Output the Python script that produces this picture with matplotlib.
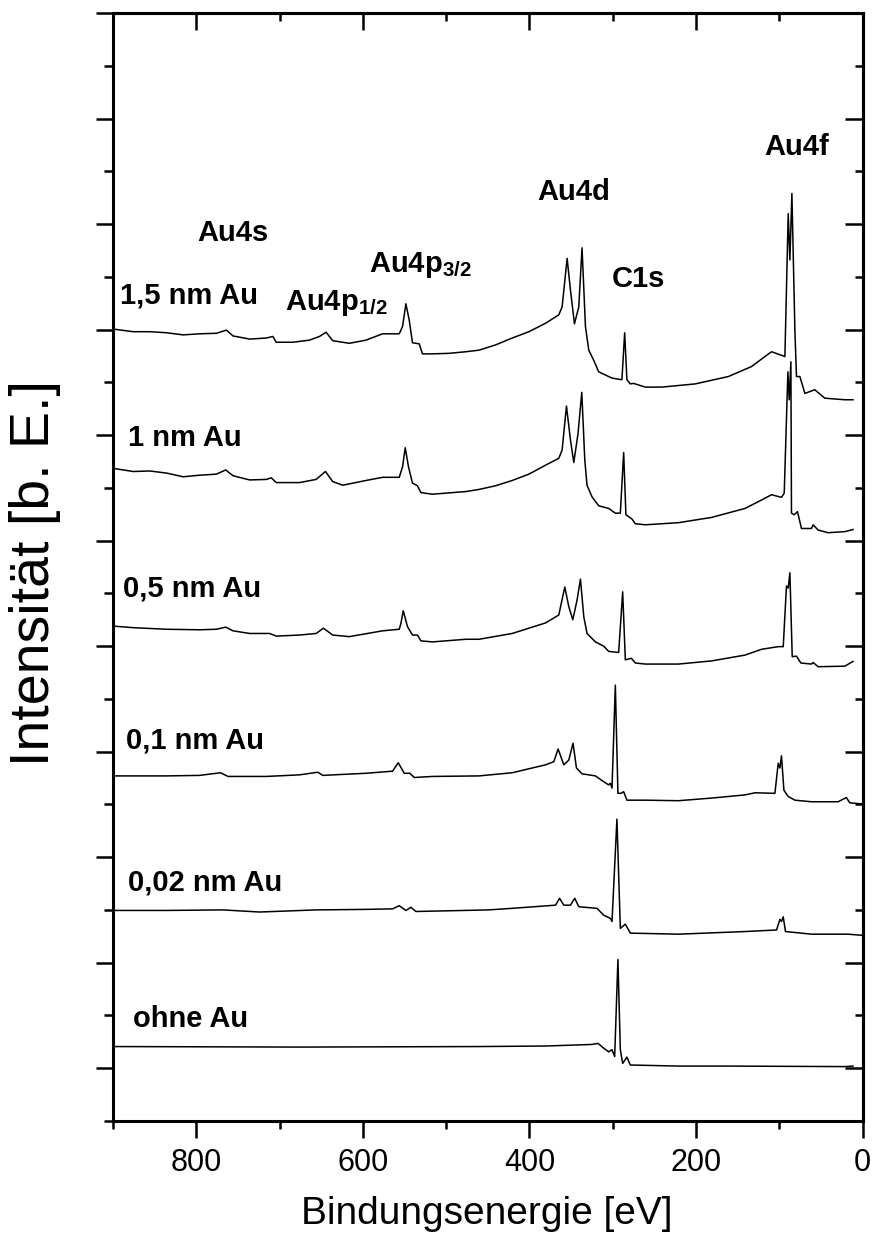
import numpy as np
import matplotlib
matplotlib.use('Agg')
import matplotlib.pyplot as plt
from matplotlib.ticker import MultipleLocator, FixedLocator

plt.rcParams['font.family'] = ['Liberation Sans', 'DejaVu Sans']
plt.rcParams['mathtext.fontset'] = 'custom'
plt.rcParams['mathtext.rm'] = 'Liberation Sans'
plt.rcParams['mathtext.bf'] = 'Liberation Sans:bold'

# binding energy [eV] and intensity [arb. units, stacked]
e_15 = [900, 875.7, 855.7, 835.7, 815.8, 795.8, 775.8, 763.8, 755.9, 735.9, 715.9, 708.0, 704.0, 684.1,
        664.1, 652.1, 644.1, 636.2, 616.2, 596.2, 576.3, 556.3, 552.3, 548.3, 544.3, 540.4, 532.3, 528.4,
        516.4, 496.4, 476.4, 460.5, 440.5, 420.6, 400.6, 380.6, 364.7, 360.7, 354.7, 350.7, 345.9, 340.7,
        336.8, 332.7, 328.7, 322.8, 316.8, 300.8, 288.9, 285.6, 282.9, 278.8, 274.9, 260.8, 241.0, 201.0,
        161.1, 133.2, 117.1, 109.2, 93.2, 89.2, 87.2, 84.8, 81.2, 79.3, 75.2, 69.2, 57.3, 45.3, 21.3, 11.4]
i_15 = [15.01, 14.96, 14.96, 14.94, 14.90, 14.92, 14.93, 14.99, 14.88, 14.82, 14.84, 14.87, 14.76, 14.76,
        14.80, 14.87, 14.95, 14.79, 14.74, 14.80, 14.92, 14.92, 15.06, 15.49, 15.18, 14.75, 14.73, 14.54,
        14.54, 14.55, 14.58, 14.61, 14.71, 14.84, 14.96, 15.12, 15.28, 15.43, 16.35, 15.75, 15.11, 15.43,
        16.55, 15.06, 14.61, 14.42, 14.20, 14.08, 14.05, 14.94, 14.05, 13.97, 13.98, 13.91, 13.91, 13.97,
        14.11, 14.30, 14.49, 14.58, 14.49, 17.20, 16.32, 17.58, 14.99, 14.11, 14.11, 13.79, 13.86, 13.70,
        13.67, 13.67]

e_10 = [900, 875.7, 855.7, 835.7, 815.8, 795.8, 775.8, 764.7, 755.9, 735.9, 715.9, 709.9, 704.0, 676.1,
        656.1, 644.9, 636.2, 624.2, 596.2, 576.3, 556.3, 552.3, 549.1, 545.2, 540.4, 534.4, 530.3, 516.4,
        476.4, 460.5, 440.5, 420.6, 400.6, 380.6, 364.7, 360.7, 355.5, 350.7, 346.7, 341.6, 337.1, 333.5,
        330.8, 324.8, 316.8, 304.8, 296.8, 290.8, 286.8, 284.1, 276.9, 272.8, 260.8, 221.0, 181.1, 141.1,
        121.2, 109.2, 97.3, 94.0, 89.6, 88.0, 86.0, 85.3, 82.0, 78.1, 73.3, 61.3, 59.3, 53.3, 41.3, 21.3, 11.4]
i_10 = [12.37, 12.31, 12.32, 12.28, 12.21, 12.24, 12.26, 12.34, 12.23, 12.15, 12.16, 12.19, 12.10, 12.10,
        12.16, 12.31, 12.12, 12.05, 12.14, 12.20, 12.20, 12.40, 12.76, 12.40, 12.09, 12.04, 11.91, 11.88,
        11.93, 11.97, 12.04, 12.14, 12.26, 12.43, 12.56, 12.72, 13.55, 12.91, 12.48, 13.03, 13.81, 12.53,
        12.05, 11.83, 11.66, 11.61, 11.52, 11.52, 12.67, 11.49, 11.41, 11.32, 11.30, 11.34, 11.44, 11.61,
        11.77, 11.87, 11.82, 11.90, 14.20, 13.67, 14.39, 11.52, 11.49, 11.55, 11.23, 11.23, 11.30, 11.20,
        11.15, 11.17, 11.21]

e_05 = [900, 875.7, 835.7, 795.8, 775.8, 764.7, 755.9, 735.9, 712.0, 704.0, 676.1, 656.1, 647.3, 636.2,
        616.2, 576.3, 556.3, 554.3, 551.5, 546.4, 540.4, 534.4, 530.3, 516.4, 476.4, 460.5, 420.6, 380.6,
        364.7, 357.5, 352.7, 347.9, 342.8, 338.7, 334.7, 330.8, 320.7, 310.8, 304.8, 292.8, 288.0, 284.8,
        277.6, 272.8, 260.8, 221.0, 181.1, 141.1, 121.2, 101.2, 95.2, 91.3, 89.2, 87.2, 84.4, 79.3, 74.0,
        61.3, 59.3, 53.3, 21.3, 11.4]
i_05 = [9.38, 9.35, 9.32, 9.31, 9.32, 9.36, 9.29, 9.24, 9.24, 9.19, 9.21, 9.24, 9.34, 9.21, 9.18, 9.29,
        9.32, 9.43, 9.67, 9.37, 9.21, 9.21, 9.10, 9.08, 9.13, 9.13, 9.24, 9.44, 9.59, 10.12, 9.75, 9.50,
        9.87, 10.27, 9.56, 9.24, 9.08, 9.00, 8.90, 8.88, 10.03, 8.74, 8.77, 8.68, 8.66, 8.66, 8.72, 8.83,
        8.94, 8.99, 8.99, 10.14, 10.10, 10.39, 8.80, 8.81, 8.68, 8.66, 8.69, 8.61, 8.62, 8.71]

e_01 = [900, 875.7, 835.7, 795.8, 771.0, 761.9, 715.9, 676.1, 654.1, 648.1, 596.2, 564.3, 557.5, 550.3,
        543.5, 538.3, 516.4, 460.5, 420.6, 380.6, 370.7, 365.5, 358.7, 352.7, 347.6, 343.5, 336.8, 320.7,
        310.8, 304.8, 302.8, 300.8, 296.8, 293.7, 290.1, 286.8, 282.9, 260.8, 221.0, 181.1, 141.1, 129.1,
        105.2, 101.2, 99.2, 97.3, 94.4, 89.2, 81.2, 61.3, 29.3, 19.4, 15.3, 1.4]
i_01 = [6.54, 6.54, 6.54, 6.55, 6.60, 6.53, 6.53, 6.56, 6.61, 6.55, 6.59, 6.63, 6.79, 6.59, 6.59, 6.51,
        6.53, 6.54, 6.60, 6.75, 6.81, 7.05, 6.75, 6.84, 7.16, 6.69, 6.58, 6.54, 6.43, 6.37, 6.40, 6.31,
        8.26, 6.21, 6.21, 6.24, 6.08, 6.08, 6.07, 6.12, 6.18, 6.22, 6.21, 6.78, 6.69, 6.92, 6.27, 6.15,
        6.08, 6.05, 6.05, 6.13, 6.03, 6.01]

e_002 = [900, 835.7, 767.9, 724.0, 656.1, 596.2, 564.3, 556.3, 548.3, 542.3, 536.3, 449.3, 420.6, 368.6,
         363.8, 358.7, 350.7, 345.5, 340.7, 318.8, 310.8, 302.8, 300.8, 294.9, 290.8, 284.8, 278.8, 221.0,
         141.1, 103.2, 99.2, 97.3, 95.2, 92.5, 61.3, 17.4, 1.4]
i_002 = [3.99, 3.99, 4.00, 3.96, 4.00, 4.01, 4.02, 4.08, 3.99, 4.05, 3.97, 4.00, 4.03, 4.09, 4.22, 4.09,
         4.09, 4.22, 4.06, 4.03, 3.90, 3.84, 3.78, 5.72, 3.65, 3.73, 3.56, 3.54, 3.59, 3.62, 3.82, 3.78,
         3.87, 3.59, 3.54, 3.54, 3.52]

e_0 = [900, 676.1, 460.5, 380.6, 324.8, 317.6, 310.8, 304.8, 300.8, 297.6, 293.7, 290.8, 288.0, 282.9,
       278.8, 221.0, 163.1, 21.3, 11.4]
i_0 = [1.41, 1.40, 1.41, 1.42, 1.45, 1.47, 1.38, 1.31, 1.35, 1.22, 3.06, 1.35, 1.09, 1.21, 1.06, 1.04,
       1.04, 1.03, 1.04]

spectra = [(e_15, i_15), (e_10, i_10), (e_05, i_05), (e_01, i_01), (e_002, i_002), (e_0, i_0)]

sample_names = ['1,5 nm Au', '1 nm Au', '0,5 nm Au', '0,1 nm Au', '0,02 nm Au', 'ohne Au']
sample_pos = [(891.6, 15.49), (881.7, 12.79), (887.7, 9.94), (884.4, 7.06), (881.7, 4.37), (875.7, 1.79)]

peak_names = ['Au4s', r'Au4p$_{\mathbf{1/2}}$', r'Au4p$_{\mathbf{3/2}}$', 'Au4d', 'C1s', 'Au4f']
peak_pos = [(798.6, 16.68), (694.0, 15.38), (593.1, 16.10), (390.7, 17.46), (300.8, 15.80), (118.0, 18.31)]

fig = plt.figure(figsize=(8.76, 12.43), dpi=100)
ax = fig.add_axes([0.129, 0.0982, 0.8556, 0.8913])

for e, i in spectra:
    ax.plot(e, i, color='k', lw=1.1)

for txt, (x, y) in zip(sample_names + peak_names, sample_pos + peak_pos):
    ax.text(x, y, txt, fontsize=21, fontweight='bold', ha='left', va='baseline')

ax.set_xlim(900, 0)
ax.set_ylim(0, 21)

ax.xaxis.set_major_locator(MultipleLocator(200))
ax.xaxis.set_minor_locator(MultipleLocator(100))
ax.yaxis.set_major_locator(FixedLocator(np.arange(1, 22, 2)))
ax.yaxis.set_minor_locator(MultipleLocator(1))

ax.tick_params(axis='x', which='major', direction='out', length=12.5, width=1.8, labelsize=22, pad=7, top=False)
ax.tick_params(axis='x', which='minor', direction='out', length=5.5, width=1.8, top=False)
ax.tick_params(axis='y', which='major', direction='out', length=12.5, width=1.8, labelleft=False, right=False)
ax.tick_params(axis='y', which='minor', direction='out', length=6.5, width=1.8, right=False)
for sp in ax.spines.values():
    sp.set_linewidth(2.2)

top = ax.secondary_xaxis('top')
top.xaxis.set_major_locator(MultipleLocator(200))
top.xaxis.set_minor_locator(MultipleLocator(100))
top.tick_params(which='major', direction='in', length=12, width=1.8, labeltop=False)
top.tick_params(which='minor', direction='in', length=6, width=1.8)

right = ax.secondary_yaxis('right')
right.yaxis.set_major_locator(FixedLocator(np.arange(1, 22, 2)))
right.yaxis.set_minor_locator(MultipleLocator(1))
right.tick_params(which='major', direction='in', length=13, width=1.8, labelright=False)
right.tick_params(which='minor', direction='in', length=6, width=1.8)
for sec in (top, right):
    for sp in sec.spines.values():
        sp.set_linewidth(2.2)

ax.set_xlabel('Bindungsenergie [eV]', fontsize=28, va='baseline')
ax.xaxis.set_label_coords(0.499, -0.093)
ax.set_ylabel('Intensität [b. E.]', fontsize=40, va='center')
ax.yaxis.set_label_coords(-0.104, 0.495)

fig.savefig('out.png', dpi=100)
